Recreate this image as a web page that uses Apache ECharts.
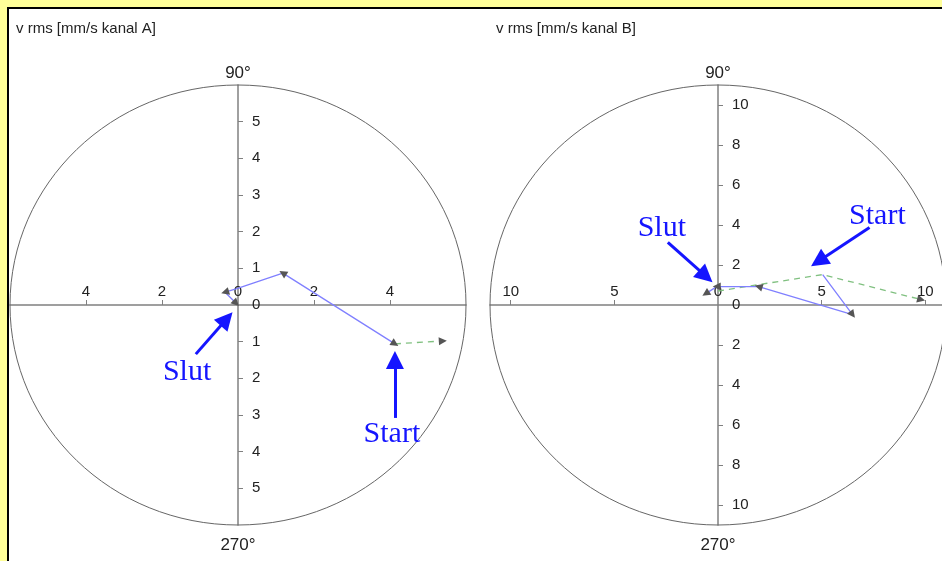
<!DOCTYPE html>
<html>
<head>
<meta charset="utf-8">
<script src="https://cdn.jsdelivr.net/npm/echarts@6/dist/echarts.min.js"></script>
<style>
    html, body { margin: 0; padding: 0; background: #ffff99; }
    #chart { width: 942px; height: 561px; }
</style>
</head>
<body>
<div id="chart"></div>
<script>
// channel A (left plot)
var pathA = [[4.13, -1.06], [1.18, 0.87], [-0.05, 0.44], [-0.34, 0.35], [-0.05, 0.05]];
var dashA = [[4.13, -1.06], [5.39, -0.98]];
var arrowsA = [[1, 0], [0, 1], [2, 3], [3, 4]];   // index pairs, arrow drawn at the second point
var dashArrowsA = [[0, 1]];
var limA = 6;
var xTicksA = [-4, -2, 0, 2, 4];
var yTicksA = [-5, -4, -3, -2, -1, 0, 1, 2, 3, 4, 5];

// channel B (right plot)
var pathB = [[5.05, 1.52], [6.49, -0.48], [1.96, 0.92], [-0.06, 0.92], [-0.59, 0.57]];
var dashB = [[0, 0.7], [5.05, 1.52], [9.8, 0.27]];
var arrowsB = [[0, 1], [1, 2], [2, 3], [3, 4]];
var dashArrowsB = [[1, 2]];
var limB = 11;
var xTicksB = [-10, -5, 0, 5, 10];
var yTicksB = [-10, -8, -6, -4, -2, 0, 2, 4, 6, 8, 10];

var chartDom = document.getElementById('chart');
var myChart = echarts.init(chartDom);

var font = 'Liberation Sans, Arial, sans-serif';
var axisColor = '#808080';
var textColor = '#222';
var noteColor = '#1515ff';
var W = 456, H = 440, TOP = 85;
var lefts = [10, 490];

function noZero(list) {
    return list.filter(function (v) { return v !== 0; });
}

function absLabel(v) {
    return Math.abs(v);
}

// axes are pushed from the grid edge into the middle so they cross at 0
function xAxisFor(i, lim, ticks) {
    return {
        type: 'value', gridIndex: i, min: -lim, max: lim, position: 'top', offset: -H / 2,
        axisLine: { onZero: false, lineStyle: { color: axisColor, width: 1.5 } },
        axisTick: { show: true, length: 5, customValues: noZero(ticks), lineStyle: { color: axisColor } },
        axisLabel: { customValues: ticks, formatter: absLabel, margin: 6, color: textColor, fontSize: 15, fontFamily: font },
        splitLine: { show: false }
    };
}

function yAxisFor(i, lim, ticks) {
    return {
        type: 'value', gridIndex: i, min: -lim, max: lim, position: 'right', offset: -W / 2,
        axisLine: { onZero: false, lineStyle: { color: axisColor, width: 1.5 } },
        axisTick: { show: true, length: 5, customValues: noZero(ticks), lineStyle: { color: axisColor } },
        axisLabel: { customValues: ticks, formatter: absLabel, margin: 14, color: textColor, fontSize: 15, fontFamily: font },
        splitLine: { show: false }
    };
}

// build arrow segments from index pairs
function arrowSegs(path, pairs) {
    return pairs.map(function (p) {
        return { coords: [path[p[0]], path[p[1]]] };
    });
}

function notes(list) {
    // list: [text, textCoord, tailCoord, headCoord]
    return {
        markPoint: {
            symbol: 'circle', symbolSize: 0, silent: true,
            label: {
                show: true, position: 'inside', formatter: '{b}',
                color: noteColor, fontSize: 30, fontFamily: 'Liberation Serif, Times New Roman, serif'
            },
            data: list.map(function (n) { return { name: n[0], coord: n[1] }; })
        },
        markLine: {
            silent: true, symbol: ['none', 'triangle'], symbolSize: 18,
            label: { show: false },
            lineStyle: { color: noteColor, width: 3, type: 'solid' },
            emphasis: { disabled: true },
            data: list.map(function (n) { return [{ coord: n[2] }, { coord: n[3] }]; })
        }
    };
}

function lineSeries(i, path, color, dashed, extra) {
    var s = {
        type: 'line', xAxisIndex: i, yAxisIndex: i, data: path,
        symbol: 'none', silent: true, z: 3,
        lineStyle: { color: color, width: 1.3, type: dashed ? [6, 5] : 'solid' }
    };
    if (extra) {
        s.markPoint = extra.markPoint;
        s.markLine = extra.markLine;
    }
    return s;
}

function arrowSeries(i, path, pairs) {
    return {
        type: 'lines', coordinateSystem: 'cartesian2d', xAxisIndex: i, yAxisIndex: i,
        symbol: ['none', 'triangle'], symbolSize: 8, silent: true, z: 4,
        lineStyle: { color: '#555', width: 0, opacity: 1 },
        data: arrowSegs(path, pairs)
    };
}

var graphics = [
    { type: 'rect', z: -100, shape: { x: 8, y: 8, width: 1000, height: 1000 },
      style: { fill: '#fff', stroke: '#000', lineWidth: 2 } }
];
lefts.forEach(function (l) {
    graphics.push({
        type: 'ellipse', z: 1,
        shape: { cx: l + W / 2, cy: TOP + H / 2, rx: W / 2, ry: H / 2 },
        style: { fill: 'none', stroke: '#666', lineWidth: 1 }
    });
    graphics.push({
        type: 'text', x: l + W / 2, y: TOP - 12,
        style: { text: '90°', font: '17px ' + font, fill: textColor, textAlign: 'center', textVerticalAlign: 'middle', align: 'center', verticalAlign: 'middle' }
    });
    graphics.push({
        type: 'text', x: l + W / 2, y: TOP + H + 20,
        style: { text: '270°', font: '17px ' + font, fill: textColor, textAlign: 'center', textVerticalAlign: 'middle', align: 'center', verticalAlign: 'middle' }
    });
});

var option = {
    animation: false,
    backgroundColor: '#ffff99',
    title: [
        { text: 'v rms [mm/s kanal A]', left: 11, top: 16, textStyle: { fontSize: 15, fontWeight: 'normal', color: textColor, fontFamily: font } },
        { text: 'v rms [mm/s kanal B]', left: 491, top: 16, textStyle: { fontSize: 15, fontWeight: 'normal', color: textColor, fontFamily: font } }
    ],
    grid: [
        { left: lefts[0], top: TOP, width: W, height: H, outerBoundsMode: 'none' },
        { left: lefts[1], top: TOP, width: W, height: H, outerBoundsMode: 'none' }
    ],
    xAxis: [xAxisFor(0, limA, xTicksA), xAxisFor(1, limB, xTicksB)],
    yAxis: [yAxisFor(0, limA, yTicksA), yAxisFor(1, limB, yTicksB)],
    graphic: graphics,
    series: [
        lineSeries(0, dashA, '#80c080', true),
        lineSeries(0, pathA, '#8080ff', false, notes([
            ['Slut', [-1.34, -1.83], [-1.11, -1.34], [-0.30, -0.38]],
            ['Start', [4.05, -3.52], [4.13, -3.08], [4.13, -1.5]]
        ])),
        arrowSeries(0, pathA, arrowsA),
        arrowSeries(0, dashA, dashArrowsA),
        lineSeries(1, dashB, '#80c080', true),
        lineSeries(1, pathB, '#8080ff', false, notes([
            ['Slut', [-2.71, 3.83], [-2.42, 3.13], [-0.59, 1.44]],
            ['Start', [7.69, 4.43], [7.31, 3.88], [4.85, 2.19]]
        ])),
        arrowSeries(1, pathB, arrowsB),
        arrowSeries(1, dashB, dashArrowsB)
    ]
};

option && myChart.setOption(option);
</script>
</body>
</html>
